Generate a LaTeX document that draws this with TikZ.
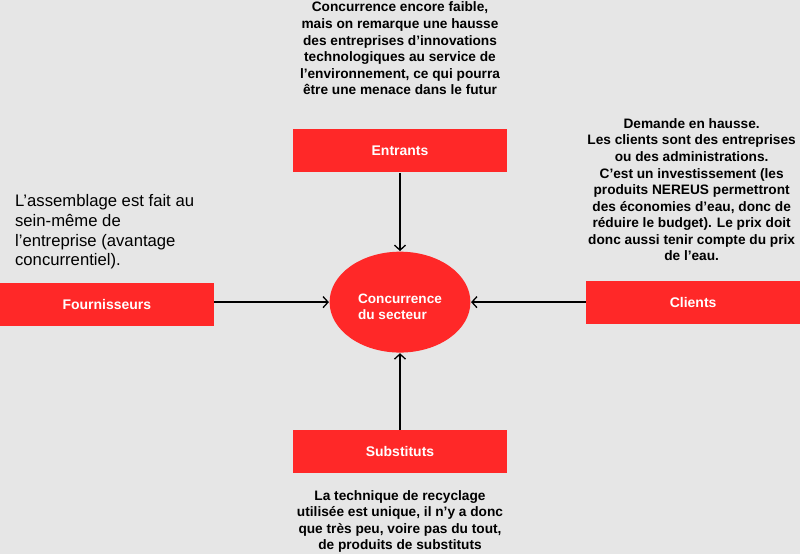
\documentclass[tikz,border=0pt]{standalone}
\usepackage{fontspec}
\setmainfont{Liberation Sans}
\usetikzlibrary{arrows.meta,shapes.geometric}
\definecolor{forcered}{RGB}{255,40,40}
\definecolor{paper}{RGB}{230,230,230}

\begin{document}
\begin{tikzpicture}[x=1pt, y=-1pt, line width=1.3pt,
  forcebox/.style={fill=forcered, minimum width=214pt, minimum height=43pt,
    inner sep=0pt, text=white, font=\bfseries\fontsize{14}{16}\selectfont},
  remark/.style={align=center, inner sep=0pt,
    font=\bfseries\fontsize{13.7}{16.6}\selectfont},
  pressure/.style={-{Straight Barb[length=5pt,width=11pt]}}]
\fill[paper] (0,0) rectangle (800,555);
% centre
\node[ellipse, fill=forcered, minimum width=141pt, minimum height=101pt,
  inner sep=0pt] (conc) at (400,302.5) {};
\node[text=white, align=left, inner sep=0pt,
  font=\bfseries\fontsize{13.6}{16}\selectfont] (conclabel)
  at ([yshift=-5pt]conc.center) {Concurrence\\du secteur};
% forces
\node[forcebox] (ent) at (400,151) {Entrants};
\node[forcebox] (four) at (106.5,305) {Fournisseurs};
\node[forcebox] (cli) at (693.5,303) {Clients};
\node[forcebox] (sub) at (400,452.5) {Substituts};
% remarks
\node[remark] (entnote) at (400,48.5)
  {Concurrence encore faible,\\mais on remarque une hausse\\des entreprises d’innovations\\technologiques au service de\\l’environnement, ce qui pourra\\être une menace dans le futur};
\node[remark] (clinote) at (692,190)
  {Demande en hausse.\\Les clients sont des entreprises\\ou des administrations.\\C’est un investissement (les\\produits NEREUS permettront\\des économies d’eau, donc de\\réduire le budget). Le prix doit\\donc aussi tenir compte du prix\\de l’eau.};
\node[anchor=west, align=left, inner sep=0pt,
  font=\fontsize{16.7}{20}\selectfont] (fournote) at (14,232)
  {L’assemblage est fait au\\sein-même de\\l’entreprise (avantage\\concurrentiel).};
\node[remark] (subnote) at (400,522)
  {La technique de recyclage\\utilisée est unique, il n’y a donc\\que très peu, voire pas du tout,\\de produits de substituts};
% arrows
\draw[pressure] (ent) -- (conc);
\draw[pressure] (sub) -- (conc);
\draw[pressure] (four.east |- conc.west) -- (conc.west);
\draw[pressure] (cli.west |- conc.east) -- (conc.east);
\end{tikzpicture}
\end{document}
